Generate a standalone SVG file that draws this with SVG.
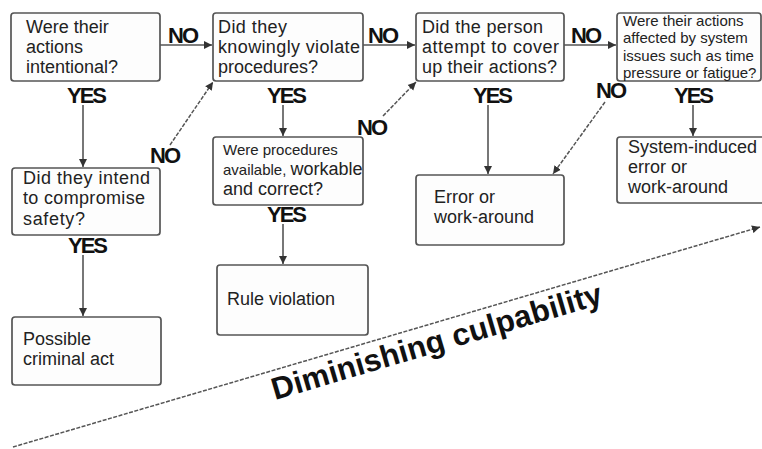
<svg xmlns="http://www.w3.org/2000/svg" width="762" height="449" viewBox="0 0 762 449">
<style>
.box{fill:#fdfdfd;stroke:#555;stroke-width:1.7}
.t{font-family:"Liberation Sans",Arial,sans-serif;font-size:18px;fill:#222}
.s{font-family:"Liberation Sans",Arial,sans-serif;font-size:15px;fill:#222}
.lbl{font-family:"Liberation Sans",Arial,sans-serif;font-size:22px;font-weight:bold;letter-spacing:-2px;fill:#111}
.ln{stroke:#555;stroke-width:1.6;fill:none}
.dl{stroke:#555;stroke-width:1.5;fill:none;stroke-dasharray:4 1.5}
.big{font-family:"Liberation Sans",Arial,sans-serif;font-size:31px;font-weight:bold;fill:#111}
</style>
<defs>
<marker id="ah" markerWidth="9" markerHeight="9" refX="8" refY="4.5" orient="auto" markerUnits="userSpaceOnUse">
<path d="M0,0.5 L8,4.5 L0,8.5 Z" fill="#333"/>
</marker>
</defs>
<rect width="762" height="449" fill="#fff"/>
<g id="connectors">
<line class="ln" x1="160" y1="45" x2="212" y2="45" marker-end="url(#ah)"/>
<line class="ln" x1="363" y1="45" x2="415" y2="45" marker-end="url(#ah)"/>
<line class="ln" x1="564" y1="45" x2="616" y2="45" marker-end="url(#ah)"/>
<line class="ln" x1="83" y1="105" x2="83" y2="167" marker-end="url(#ah)"/>
<line class="ln" x1="83" y1="255" x2="83" y2="316" marker-end="url(#ah)"/>
<line class="ln" x1="283" y1="105" x2="283" y2="136" marker-end="url(#ah)"/>
<line class="ln" x1="283" y1="224" x2="283" y2="264" marker-end="url(#ah)"/>
<line class="ln" x1="488" y1="105" x2="488" y2="174" marker-end="url(#ah)"/>
<line class="ln" x1="693" y1="105" x2="693" y2="136" marker-end="url(#ah)"/>
<line class="dl" x1="170" y1="145" x2="213" y2="82" marker-end="url(#ah)"/>
<line class="dl" x1="383" y1="116" x2="416" y2="82" marker-end="url(#ah)"/>
<line class="dl" x1="605" y1="102" x2="553" y2="174" marker-end="url(#ah)"/>
<line class="dl" x1="13" y1="447" x2="760" y2="227" marker-end="url(#ah)"/>
</g>
<g id="labels">
<text class="lbl" x="168" y="43">NO</text>
<text class="lbl" x="368" y="43">NO</text>
<text class="lbl" x="571" y="43">NO</text>
<text class="lbl" x="67" y="103">YES</text>
<text class="lbl" x="267" y="103">YES</text>
<text class="lbl" x="473" y="103">YES</text>
<text class="lbl" x="596" y="98">NO</text>
<text class="lbl" x="674" y="103">YES</text>
<text class="lbl" x="150" y="163">NO</text>
<text class="lbl" x="68" y="253">YES</text>
<text class="lbl" x="267" y="222">YES</text>
<text class="lbl" x="357" y="135">NO</text>
</g>
<g id="n1">
<rect class="box" x="11" y="13" width="149" height="68" rx="3"/>
<text class="t" x="26" y="33">Were their</text>
<text class="t" x="26" y="53">actions</text>
<text class="t" x="26" y="73">intentional?</text>
</g>
<g id="n2">
<rect class="box" x="213" y="13" width="150" height="68" rx="3"/>
<text class="t" x="218" y="33" textLength="69">Did they</text>
<text class="t" x="218" y="53" textLength="142">knowingly violate</text>
<text class="t" x="218" y="73">procedures?</text>
</g>
<g id="n3">
<rect class="box" x="416" y="13" width="148" height="68" rx="3"/>
<text class="t" x="422" y="33" textLength="121">Did the person</text>
<text class="t" x="422" y="53" textLength="137">attempt to cover</text>
<text class="t" x="422" y="73" textLength="135">up their actions?</text>
</g>
<g id="n4">
<rect class="box" x="617" y="13" width="144" height="68" rx="3"/>
<text class="s" x="623" y="26">Were their actions</text>
<text class="s" x="623" y="43">affected by system</text>
<text class="s" x="623" y="61">issues such as time</text>
<text class="s" x="623" y="78">pressure or fatigue?</text>
</g>
<g id="n5">
<rect class="box" x="12" y="168" width="148" height="67" rx="3"/>
<text class="t" x="23" y="184" textLength="127">Did they intend</text>
<text class="t" x="23" y="204" textLength="122">to compromise</text>
<text class="t" x="23" y="225" textLength="62">safety?</text>
</g>
<g id="n6">
<rect class="box" x="213" y="137" width="150" height="68" rx="3"/>
<text class="s" x="223" y="155">Were procedures</text>
<text class="s" x="223" y="175">available, <tspan class="t">workable</tspan></text>
<text class="t" x="223" y="195">and correct?</text>
</g>
<g id="n7">
<rect class="box" x="416" y="175" width="148" height="70" rx="3"/>
<text class="t" x="434" y="203">Error or</text>
<text class="t" x="434" y="223">work-around</text>
</g>
<g id="n8">
<rect class="box" x="617" y="137" width="160" height="66" rx="3"/>
<text class="t" x="628" y="153">System-induced</text>
<text class="t" x="628" y="173">error or</text>
<text class="t" x="628" y="193">work-around</text>
</g>
<g id="n9">
<rect class="box" x="217" y="265" width="151" height="70" rx="3"/>
<text class="t" x="227" y="305">Rule violation</text>
</g>
<g id="n10">
<rect class="box" x="12" y="317" width="149" height="68" rx="3"/>
<text class="t" x="23" y="345">Possible</text>
<text class="t" x="23" y="365">criminal act</text>
</g>
<g id="axis-label">
<text class="big" x="275" y="400" transform="rotate(-16.4 275 400)" textLength="343">Diminishing culpability</text>
</g>
</svg>
